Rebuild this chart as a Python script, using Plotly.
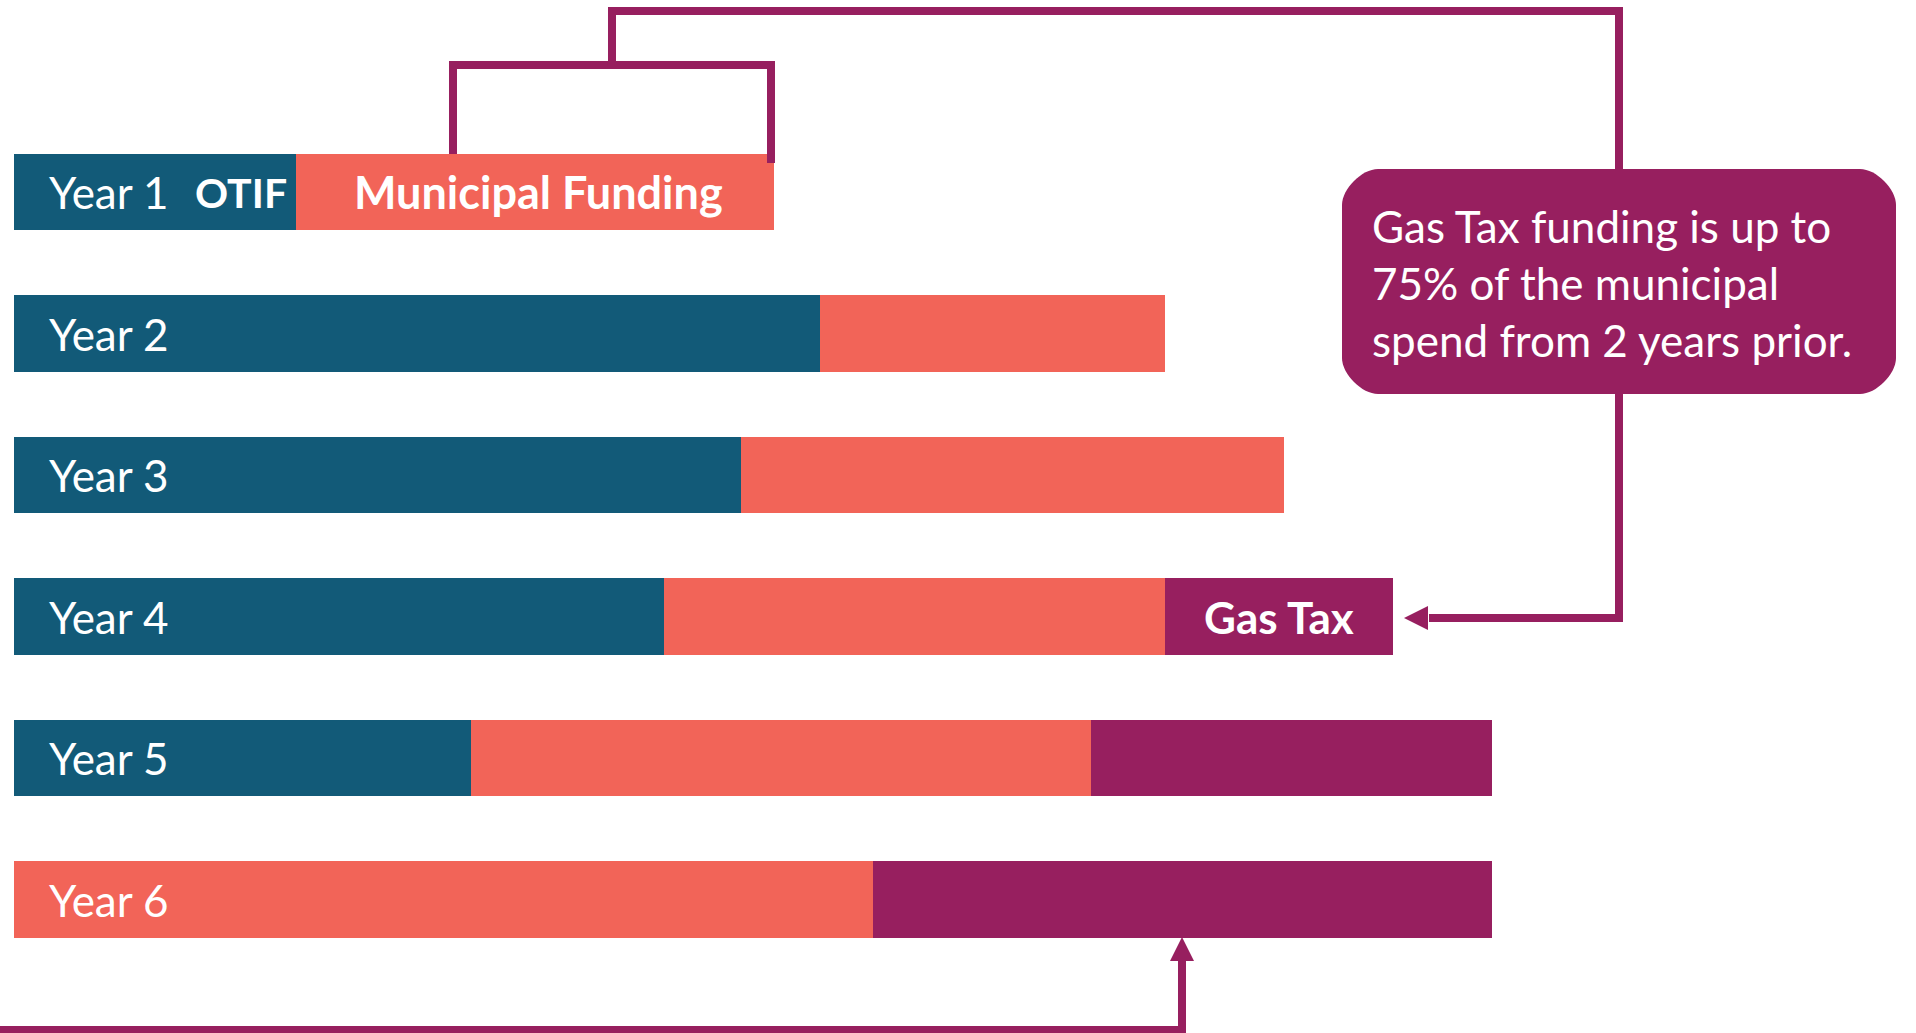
import plotly.graph_objects as go

# ---- data (segment lengths, arbitrary units) ----
years = ["Year 1", "Year 2", "Year 3", "Year 4", "Year 5", "Year 6"]
otif = [282, 806, 727, 650, 457, 0]
municipal = [478, 345, 543, 501, 620, 859]
gas_tax = [0, 0, 0, 228, 401, 619]

callout_lines = ["Gas Tax funding is up to", "75% of the municipal", "spend from 2 years prior."]

BLUE = "#125A78"
CORAL = "#F26458"
PURPLE = "#971F5F"
FONT = "Lato"

W, H = 1916, 1033
X0 = 14  # pixel where bars start

fig = go.Figure()
for name, vals, col in [("OTIF", otif, BLUE), ("Municipal Funding", municipal, CORAL), ("Gas Tax", gas_tax, PURPLE)]:
    fig.add_trace(go.Bar(
        y=years, x=vals, orientation="h", name=name,
        marker=dict(color=col, line=dict(width=0)),
        width=0.542, hoverinfo="skip",
    ))

first_px, step_px = 192.0, 141.5
y_top = -first_px / step_px
y_bot = (H - first_px) / step_px

fig.update_layout(
    barmode="stack", width=W, height=H,
    margin=dict(l=0, r=0, t=0, b=0),
    paper_bgcolor="white", plot_bgcolor="white", showlegend=False,
    xaxis=dict(range=[-X0, W - X0], visible=False, fixedrange=True),
    yaxis=dict(type="category", categoryorder="array", categoryarray=years,
               range=[y_bot, y_top], visible=False, fixedrange=True),
)


def P(x, y):
    return x / W, 1 - y / H


def poly_path(points, close=False):
    parts = []
    for i, (x, y) in enumerate(points):
        px, py = P(x, y)
        parts.append(("M" if i == 0 else "L") + f"{px:.6f},{py:.6f}")
    if close:
        parts.append("Z")
    return " ".join(parts)


def line_shape(points, width=8):
    fig.add_shape(type="path", xref="paper", yref="paper", path=poly_path(points),
                  line=dict(color=PURPLE, width=width), fillcolor="rgba(0,0,0,0)", layer="above")


def tri(points):
    fig.add_shape(type="path", xref="paper", yref="paper", path=poly_path(points, True),
                  line=dict(width=0), fillcolor=PURPLE, layer="above")


# bar ends derived from data
y1_end = X0 + otif[0] + municipal[0]
y4_end = X0 + otif[3] + municipal[3] + gas_tax[3]

# bracket over Year 1 municipal funding
line_shape([(453, 154), (453, 65), (y1_end - 3, 65), (y1_end - 3, 163)])
# connector to callout
line_shape([(612, 65), (612, 11), (1619, 11), (1619, 172)])
# callout to Year 4 gas tax
tip4 = y4_end + 11
line_shape([(1619, 390), (1619, 618), (tip4 + 25, 618)])
tri([(tip4, 618), (tip4 + 24, 606), (tip4 + 24, 630)])
# bottom connector to Year 6 gas tax
line_shape([(-5, 1030), (1182, 1030), (1182, 959)])
tri([(1182, 937), (1170, 961), (1194, 961)])

# callout rounded box
x0, x1, ya, yb, r = 1342, 1896, 169, 394, 36
k = 0.4477 * r


def pp(x, y):
    a, b = P(x, y)
    return f"{a:.6f},{b:.6f}"


box = (f"M{pp(x0 + r, ya)} L{pp(x1 - r, ya)} C{pp(x1 - r + k, ya)} {pp(x1, ya + r - k)} {pp(x1, ya + r)} "
       f"L{pp(x1, yb - r)} C{pp(x1, yb - r + k)} {pp(x1 - r + k, yb)} {pp(x1 - r, yb)} "
       f"L{pp(x0 + r, yb)} C{pp(x0 + r - k, yb)} {pp(x0, yb - r + k)} {pp(x0, yb - r)} "
       f"L{pp(x0, ya + r)} C{pp(x0, ya + r - k)} {pp(x0 + r - k, ya)} {pp(x0 + r, ya)} Z")
fig.add_shape(type="path", xref="paper", yref="paper", path=box,
              line=dict(width=0), fillcolor=PURPLE, layer="above")

for i, txt in enumerate(callout_lines):
    cy = 226 + 57 * i
    fig.add_annotation(xref="paper", yref="paper", x=1370 / W, y=1 - cy / H,
                       xanchor="left", yanchor="middle", showarrow=False, text=txt,
                       font=dict(family=FONT, size=44, color="white"))

# bar labels
for yr in years:
    fig.add_annotation(xref="x", yref="y", x=33, y=yr, xanchor="left", yanchor="middle",
                       showarrow=False, text=yr, font=dict(family=FONT, size=44, color="white"))

fig.add_annotation(xref="x", yref="y", x=otif[0] - 7, y=years[0], xanchor="right", yanchor="middle",
                   showarrow=False, text="<b>OTIF</b>", font=dict(family=FONT, size=41, color="white"))
fig.add_annotation(xref="x", yref="y", x=otif[0] + municipal[0] / 2 + 3, y=years[0], xanchor="center",
                   yanchor="middle", showarrow=False, text="<b>Municipal Funding</b>",
                   font=dict(family=FONT, size=45, color="white"))
fig.add_annotation(xref="x", yref="y", x=otif[3] + municipal[3] + gas_tax[3] / 2, y=years[3],
                   xanchor="center", yanchor="middle", showarrow=False, text="<b>Gas Tax</b>",
                   font=dict(family=FONT, size=44, color="white"))

fig.write_html("out.html", config={"displayModeBar": False},
               post_script="document.body.style.margin='0';document.body.style.overflow='hidden';")
